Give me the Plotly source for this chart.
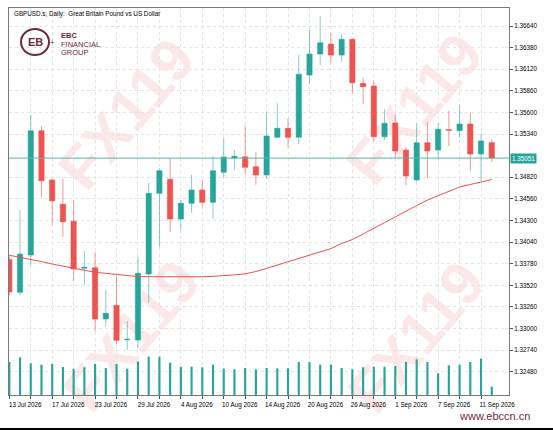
import plotly.graph_objects as go

# ---------------- data ----------------
dates = [
    "13 Jul 2026", "14 Jul 2026", "15 Jul 2026", "16 Jul 2026", "17 Jul 2026",
    "20 Jul 2026", "21 Jul 2026", "22 Jul 2026", "23 Jul 2026", "24 Jul 2026",
    "27 Jul 2026", "28 Jul 2026", "29 Jul 2026", "30 Jul 2026", "31 Jul 2026",
    "3 Aug 2026", "4 Aug 2026", "5 Aug 2026", "6 Aug 2026", "7 Aug 2026",
    "10 Aug 2026", "11 Aug 2026", "12 Aug 2026", "13 Aug 2026", "14 Aug 2026",
    "17 Aug 2026", "18 Aug 2026", "19 Aug 2026", "20 Aug 2026", "21 Aug 2026",
    "24 Aug 2026", "25 Aug 2026", "26 Aug 2026", "27 Aug 2026", "28 Aug 2026",
    "31 Aug 2026", "1 Sep 2026", "2 Sep 2026", "3 Sep 2026", "4 Sep 2026",
    "7 Sep 2026", "8 Sep 2026", "9 Sep 2026", "10 Sep 2026", "11 Sep 2026",
    "14 Sep 2026",
]
opens = [1.33832, 1.33435, 1.33884, 1.35380, 1.34787, 1.34494, 1.34290, 1.33724, 1.33731, 1.33114,
         1.33279, 1.32864, 1.32861, 1.33656, 1.34627, 1.34795, 1.34317, 1.34506, 1.34666, 1.34518,
         1.34879, 1.35052, 1.35067, 1.34947, 1.34847, 1.35301, 1.35409, 1.35301, 1.36050, 1.36303,
         1.36423, 1.36291, 1.36480, 1.35950, 1.35918, 1.35308, 1.35473, 1.35148, 1.34787, 1.35236,
         1.35148, 1.35392, 1.35380, 1.35461, 1.35100, 1.35236]
highs = [1.33880, 1.34426, 1.35569, 1.35437, 1.34799, 1.34802, 1.34546, 1.33936, 1.33920, 1.33463,
         1.33632, 1.33090, 1.33857, 1.34754, 1.34928, 1.35048, 1.34546, 1.34847, 1.34787, 1.35079,
         1.35296, 1.35148, 1.35440, 1.35120, 1.35609, 1.35710, 1.35529, 1.36291, 1.36592, 1.36760,
         1.36559, 1.36544, 1.36492, 1.36023, 1.35978, 1.35638, 1.35586, 1.35180, 1.35469, 1.35481,
         1.35469, 1.35617, 1.35681, 1.35597, 1.35340, 1.35277]
lows = [1.33400, 1.33399, 1.33756, 1.34574, 1.34245, 1.34104, 1.33571, 1.33523, 1.32961, 1.33018,
        1.32813, 1.32741, 1.32761, 1.33310, 1.33977, 1.34157, 1.34177, 1.34393, 1.34465, 1.34326,
        1.34819, 1.34907, 1.34855, 1.34727, 1.34799, 1.35296, 1.35180, 1.35220, 1.35942, 1.36171,
        1.36198, 1.36210, 1.35830, 1.35698, 1.35248, 1.35268, 1.35048, 1.34727, 1.34766, 1.34807,
        1.35036, 1.35196, 1.35296, 1.34895, 1.34778, 1.35007]
closes = [1.33439, 1.33896, 1.35380, 1.34778, 1.34538, 1.34285, 1.33716, 1.33736, 1.33114, 1.33183,
          1.32858, 1.32870, 1.33664, 1.34627, 1.34899, 1.34317, 1.34506, 1.34666, 1.34518, 1.34899,
          1.35064, 1.35072, 1.34940, 1.34847, 1.35316, 1.35409, 1.35301, 1.36059, 1.36303, 1.36439,
          1.36291, 1.36480, 1.35958, 1.35910, 1.35308, 1.35469, 1.35136, 1.34835, 1.35236, 1.35136,
          1.35397, 1.35385, 1.35461, 1.35100, 1.35256, 1.35051]
moving_avg = [1.33881, 1.33857, 1.33836, 1.33806, 1.33776, 1.33752, 1.33728, 1.33698, 1.33676, 1.33664,
              1.33652, 1.33635, 1.33625, 1.33623, 1.33623, 1.33620, 1.33616, 1.33620, 1.33623, 1.33628,
              1.33634, 1.33646, 1.33658, 1.33686, 1.33724, 1.33764, 1.33808, 1.33842, 1.33884, 1.33924,
              1.33962, 1.34023, 1.34071, 1.34137, 1.34209, 1.34275, 1.34342, 1.34414, 1.34480, 1.34546,
              1.34600, 1.34654, 1.34703, 1.34733, 1.34763, 1.34793]
volumes = [99000, 113000, 95000, 91000, 93000, 84000, 78000, 83000, 93000, 81000,
           93000, 79000, 101000, 115000, 115000, 97000, 85000, 85000, 83000, 91000,
           79000, 77000, 81000, 77000, 81000, 80000, 80000, 99000, 99000, 91000,
           91000, 81000, 77000, 83000, 85000, 85000, 87000, 99000, 107000, 99000,
           65000, 89000, 91000, 99000, 109000, 25000]
last_price = 1.35051
y_tick_values = [1.32480, 1.32740, 1.33000, 1.33260, 1.33520, 1.33780, 1.34040, 1.34300,
                 1.34560, 1.34820, 1.35340, 1.35600, 1.35860, 1.36120, 1.36380, 1.36640]
title_text = "GBPUSD.s, Daily:  Great Britain Pound vs US Dollar"
watermark_text = "FX119"
site_text = "www.ebccn.cn"

# ---------------- style ----------------
UP = "#26a69a"
DOWN = "#ef5350"
MAROON = "#6e2a3c"
FONT = "Liberation Sans, Arial, sans-serif"
W, H = 553, 430
L, R, T, B = 9, 44, 8, 35
PW, PH = W - L - R, H - T - B


def px(x):
    return (x - L) / PW


def py(y):
    return (H - B - y) / PH


fig = go.Figure()

fig.add_trace(go.Bar(
    x=dates, y=volumes, yaxis="y2", width=0.2,
    marker=dict(color=UP, line=dict(width=0)), showlegend=False, hoverinfo="skip",
))

fig.add_trace(go.Scatter(
    x=dates, y=moving_avg, mode="lines",
    line=dict(color="#f0504a", width=1), showlegend=False, hoverinfo="skip",
))

fig.add_trace(go.Candlestick(
    x=dates, open=opens, high=highs, low=lows, close=closes,
    increasing=dict(fillcolor=UP, line=dict(color="rgba(38,166,154,0.55)", width=1)),
    decreasing=dict(fillcolor=DOWN, line=dict(color="rgba(239,83,80,0.6)", width=1)),
    whiskerwidth=0, showlegend=False,
))

tick_dates = dates[::2]
tick_text = [d if i % 4 == 0 else "" for i, d in enumerate(dates) if i % 2 == 0]

shapes = []
# watermarks
for cx, cy in [(122, 110), (410, 105), (127, 332), (412, 333)]:
    shapes.append(dict(
        type="rect", xref="paper", yref="paper",
        x0=px(cx - 20), x1=px(cx + 20), y0=py(cy + 20), y1=py(cy - 20),
        line=dict(width=0), fillcolor="rgba(0,0,0,0)", layer="below",
        label=dict(text="<b>" + watermark_text + "</b>", textangle=-50,
                   textposition="middle center",
                   font=dict(size=60, color="rgba(232,90,90,0.14)", family=FONT)),
    ))
# current price line
shapes.append(dict(type="line", xref="paper", yref="y", x0=0, x1=1,
                   y0=last_price, y1=last_price, line=dict(color="#4fb8ab", width=1)))
# logo ring
shapes.append(dict(type="circle", xref="paper", yref="paper",
                   x0=px(21), x1=px(49), y0=py(55), y1=py(29),
                   line=dict(color=MAROON, width=2)))
# bottom frame line
shapes.append(dict(type="line", xref="paper", yref="paper",
                   x0=px(0), x1=px(W), y0=py(429), y1=py(429),
                   line=dict(color="#000000", width=2)))

annotations = [
    dict(text=title_text, xref="paper", yref="paper", x=px(12), y=py(14.5),
         xanchor="left", yanchor="middle", showarrow=False,
         font=dict(size=6.3, color="#000000", family=FONT)),
    dict(text="<b>EB</b>", xref="paper", yref="paper", x=px(35), y=py(42),
         xanchor="center", yanchor="middle", showarrow=False,
         font=dict(size=11, color=MAROON, family=FONT)),
    dict(text="+", xref="paper", yref="paper", x=px(52), y=py(43),
         xanchor="center", yanchor="middle", showarrow=False,
         font=dict(size=8, color=MAROON, family=FONT)),
    dict(text="<b>EBC</b>", xref="paper", yref="paper", x=px(58.5), y=py(36),
         xanchor="left", yanchor="middle", showarrow=False,
         font=dict(size=7.5, color=MAROON, family=FONT)),
    dict(text="FINANCIAL", xref="paper", yref="paper", x=px(58.5), y=py(44.5),
         xanchor="left", yanchor="middle", showarrow=False,
         font=dict(size=7.5, color=MAROON, family=FONT)),
    dict(text="GROUP", xref="paper", yref="paper", x=px(58.5), y=py(53),
         xanchor="left", yanchor="middle", showarrow=False,
         font=dict(size=7.5, color=MAROON, family=FONT)),
    dict(text=site_text, xref="paper", yref="paper", x=px(532), y=py(416),
         xanchor="right", yanchor="middle", showarrow=False,
         font=dict(size=11, color=MAROON, family=FONT)),
    dict(text="%.5f" % last_price, xref="paper", yref="y", x=1, y=last_price,
         xanchor="left", yanchor="middle", xshift=1, showarrow=False,
         bgcolor=UP, borderpad=1,
         font=dict(size=6.3, color="#ffffff", family=FONT)),
]

fig.update_layout(
    width=W, height=H,
    margin=dict(l=L, r=R, t=T, b=B, pad=0, autoexpand=False),
    paper_bgcolor="#ffffff", plot_bgcolor="#ffffff",
    showlegend=False,
    font=dict(family=FONT, size=6.3, color="#000000"),
    shapes=shapes, annotations=annotations,
    xaxis=dict(
        type="category", range=[-0.03, 46.61], rangeslider=dict(visible=False),
        tickmode="array", tickvals=tick_dates, ticktext=tick_text,
        ticks="outside", ticklen=3, tickcolor="#555555", ticklabelshift=16,
        showgrid=True, gridcolor="#e3e3e3", griddash="dot", gridwidth=1,
        showline=True, linecolor="#7a7a7a", linewidth=1, mirror=True,
        tickfont=dict(size=6.3, color="#000000"), zeroline=False, automargin=False,
    ),
    yaxis=dict(
        side="right", range=[1.32200, 1.36857],
        tickmode="array", tickvals=y_tick_values,
        ticktext=["%.5f" % v for v in y_tick_values],
        ticks="outside", ticklen=3, tickcolor="#555555",
        showgrid=True, gridcolor="#e3e3e3", griddash="dot", gridwidth=1,
        showline=True, linecolor="#7a7a7a", linewidth=1, mirror=True,
        tickfont=dict(size=6.3, color="#000000"), zeroline=False, automargin=False,
    ),
    yaxis2=dict(overlaying="y", range=[0, 1161000], visible=False, fixedrange=True),
)

fig.write_html(
    "out.html",
    config={"displayModeBar": False},
    post_script="document.body.style.margin='0';document.body.style.overflow='hidden';",
)
